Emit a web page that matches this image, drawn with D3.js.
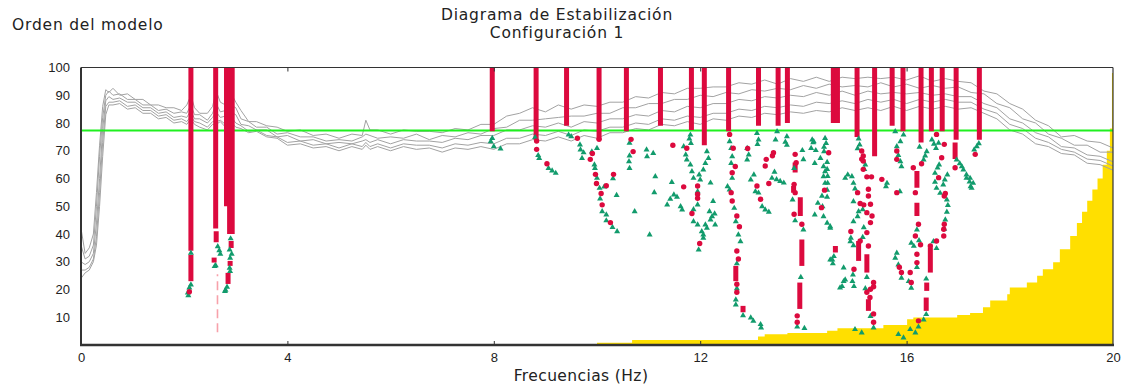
<!DOCTYPE html>
<html>
<head>
<meta charset="utf-8">
<script src="https://cdn.jsdelivr.net/npm/d3@7"></script>
<style>
  body { margin: 0; background: #fff; }
  svg { display: block; }
  .tick text { font-family: "Liberation Sans", Arial, sans-serif; font-size: 13px; fill: #222; }
  .lbl { font-family: "DejaVu Sans", sans-serif; font-size: 15.5px; letter-spacing: 0.8px; fill: #222; }
</style>
</head>
<body>
<svg id="chart" width="1125" height="385"></svg>
<script>
// ---- data ----
const xTicks = [0, 4, 8, 12, 16, 20];
const yTicks = [10, 20, 30, 40, 50, 60, 70, 80, 90, 100];
const stabLimit = 77.3;          // horizontal green line
const dashedFreq = 2.645;        // pink dashed mark
const dashedRange = [4.6, 25.5];

// grey spectra (5 curves sharing one frequency grid)
const specFreq = [0, 0.08, 0.16, 0.24, 0.3, 0.36, 0.42, 0.48, 0.54, 0.62,
  0.75, 0.9, 1.05, 1.2, 1.35, 1.5, 1.65, 1.8, 1.95, 2.05,
  2.13, 2.2, 2.3, 2.45, 2.55, 2.62, 2.7, 2.8, 2.9, 3.0,
  3.1, 3.25, 3.4, 3.6, 3.8, 4.0, 4.25, 4.5, 4.75, 5.0,
  5.25, 5.45, 5.52, 5.6, 5.75, 6.0, 6.25, 6.5, 6.75, 7.0,
  7.25, 7.5, 7.75, 8.0, 8.25, 8.5, 8.75, 9.0, 9.25, 9.5,
  9.75, 10.0, 10.25, 10.5, 10.75, 11.0, 11.25, 11.5, 11.75, 12.0,
  12.25, 12.5, 12.75, 13.0, 13.25, 13.5, 13.75, 14.0, 14.25, 14.5,
  14.75, 15.0, 15.25, 15.5, 15.75, 16.0, 16.25, 16.5, 16.75, 17.0,
  17.25, 17.5, 17.75, 18.0, 18.25, 18.5, 18.75, 19.0, 19.25, 19.5,
  19.75, 20.0];
const spec1 = [42, 33, 35, 40, 55, 72, 86, 92, 91, 92.5,
  90, 90.5, 88.5, 88.5, 86.5, 86.5, 85.5, 85.5, 84.5, 86.5,
  90, 85.5, 83.5, 83.5, 86, 91.5, 87.5, 86.5, 91, 87.5,
  84.5, 80.5, 80.5, 79, 78.5, 77, 77.5, 75.5, 76, 74.5,
  76, 75.5, 81, 77.5, 77.5, 76, 77.5, 77, 77, 76.5,
  78, 77.5, 79.5, 79.5, 82.5, 83.5, 85.5, 84, 86.5, 85,
  86.5, 86, 87.5, 87.5, 89.5, 89, 91, 90.5, 92.5, 92.5,
  93, 93, 94.5, 94, 95.5, 94, 96, 95, 96.5, 95,
  96.5, 96, 96.5, 96, 96.5, 95.5, 97, 95, 96, 95,
  94.5, 91.5, 90.5, 87, 85, 81, 79, 75, 75.5, 73.5,
  73, 71];
const spec2 = [36, 31, 32, 36, 50, 68, 82, 90, 91.5, 90,
  90.5, 88.5, 88.5, 86.5, 86.5, 84.5, 85, 83.5, 84, 83.5,
  86.5, 83, 83, 81, 83.5, 87, 84, 84.5, 86.5, 85.5,
  81.5, 80.5, 78.5, 78.5, 76, 76.5, 75, 75, 73.5, 74,
  73.5, 75, 76, 75.5, 74.5, 75, 74.5, 76, 74, 75.5,
  75, 76.5, 76, 78, 78.5, 81, 81, 81.5, 82, 82.5,
  82.5, 83.5, 83.5, 85.5, 85.5, 87, 87, 88.5, 88.5, 90,
  89.5, 91, 90.5, 92, 91.5, 92.5, 92, 93.5, 92.5, 94,
  93, 93.5, 93, 94.5, 93, 94, 92.5, 93.5, 92.5, 93,
  91, 90.5, 87, 85.5, 81.5, 80, 76, 74.5, 72, 72,
  69.5, 69.5];
const spec3 = [30, 29, 30, 33, 44, 60, 78, 88, 89.5, 88.5,
  89, 87.5, 87.5, 85.5, 85.5, 83.5, 84, 82, 82.5, 82,
  84.5, 81.5, 81.5, 80, 82, 84, 82, 82.5, 84, 83,
  79.5, 79, 77.5, 77.5, 75, 75.5, 73.5, 74, 72.5, 73,
  72.5, 73.5, 74, 73, 74, 72.5, 74, 73.5, 73.5, 73,
  74.5, 74, 75.5, 75.5, 77.5, 77.5, 79, 78.5, 80, 78.5,
  80.5, 80, 81.5, 81.5, 83, 82.5, 84.5, 84, 86, 85.5,
  87, 87, 88.5, 88, 89.5, 89, 90, 89.5, 91, 90,
  91.5, 90, 91.5, 90.5, 91, 90.5, 91, 90, 90.5, 89.5,
  89.5, 87, 85.5, 81.5, 80, 76.5, 75, 71.5, 71, 68.5,
  68, 66];
const spec4 = [27, 27, 28, 31, 39, 55, 73, 86, 87.5, 87.5,
  88, 86, 86.5, 84.5, 84.5, 82.5, 83, 81, 81.5, 80.5,
  82.5, 80.5, 80, 78.5, 80.5, 80.5, 81, 79.5, 82.5, 80,
  79, 77, 77.5, 75.5, 75, 73, 73.5, 72, 72.5, 71,
  72.5, 71.5, 73, 71.5, 72.5, 71, 72.5, 72, 72, 71,
  72.5, 72, 73, 72.5, 74.5, 74.5, 76, 75.5, 77, 75.5,
  77.5, 77, 78.5, 78.5, 80, 79.5, 81.5, 81, 82.5, 82,
  83.5, 83.5, 85, 84.5, 86, 85.5, 86.5, 86, 87.5, 87,
  88, 87, 88.5, 87.5, 88.5, 87, 88.5, 87.5, 88.5, 87.5,
  87.5, 85, 83.5, 79.5, 78, 74.5, 73, 70.5, 69.5, 67,
  66.5, 64.5];
const spec5 = [24, 26, 27, 30, 36, 50, 68, 83, 86.5, 86.5,
  87, 85, 85.5, 83.5, 83.5, 81.5, 82, 80, 80.5, 79.5,
  81.5, 79.5, 78.5, 77.5, 79.5, 79.5, 80.5, 78.5, 80.5, 78.5,
  78, 76.5, 77, 75, 74.5, 72, 72.5, 71, 71.5, 70,
  71.5, 70.5, 72, 70.5, 71.5, 70, 71.5, 70.5, 71, 69.5,
  71, 70.5, 71.5, 70.5, 72.5, 72.5, 74, 73.5, 75, 73.5,
  75.5, 74.5, 76.5, 76.5, 78, 77.5, 79.5, 79, 80.5, 79.5,
  81.5, 81, 82.5, 82, 83.5, 83, 84, 83.5, 84.5, 84,
  85.5, 84.5, 85.5, 84.5, 86, 84.5, 86, 85, 86, 85,
  85.5, 83.5, 81.5, 77.5, 76, 72.5, 71.5, 69, 68.5, 65.5,
  65, 63];
const spectra = [spec1, spec2, spec3, spec4, spec5];

// yellow step area
const floorFreq = [10.0, 10.68, 13.12, 13.25, 13.69, 14.46, 14.66, 15.55, 16.01, 16.13,
  16.98, 17.23, 17.48, 17.62, 17.95, 18.0, 18.33, 18.53, 18.64, 18.84,
  18.97, 19.17, 19.3, 19.4, 19.5, 19.6, 19.7, 19.8, 19.88, 19.94, 19.98, 20.0];
const floorOrder = [0.8, 1.8, 3.1, 3.9, 4.3, 5.1, 6, 7.2, 9.3, 9.9,
  10.8, 11.5, 13.6, 16, 18.3, 20.7, 22.5, 25, 27.3, 29.8,
  34.5, 39.3, 44, 48, 52, 56, 60, 65, 70, 78, 98, 98];

// stable runs: [freq, from order, to order]
const stableRuns = [
  [2.13, 34, 100], [2.13, 23, 32.5], [2.61, 42, 100], [2.62, 37, 41], [2.58, 29.7, 31.5],
  [2.82, 50, 100], [2.88, 40, 100], [2.93, 40, 100], [2.91, 35, 37.5], [2.89, 28.5, 30.3], [2.85, 22, 26],
  [7.97, 77, 100], [8.82, 74, 100], [9.41, 79, 100], [10.04, 74, 100], [10.57, 77, 100],
  [11.23, 79, 100], [11.83, 77.5, 100], [12.08, 72, 100], [12.55, 77, 100], [13.13, 79, 100],
  [13.51, 79, 100], [13.69, 80, 100], [14.58, 80, 100], [14.66, 80, 100], [15.04, 75, 100],
  [15.38, 68, 100], [15.72, 79, 100], [15.93, 77, 100], [16.28, 73, 100], [16.48, 77, 100],
  [16.69, 77, 100], [16.96, 74, 100], [17.41, 74, 100],
  [12.69, 23, 28.5], [12.83, 11.8, 14.1], [13.93, 13, 22.5], [13.97, 28.5, 38], [13.94, 46.5, 53.2],
  [13.84, 62.2, 65.8], [13.81, 54.9, 57.3], [15.26, 12.3, 16.5], [16.2, 56.7, 62.7], [16.2, 46.5, 51.3],
  [16.46, 26.1, 35.1], [16.39, 19.5, 22.5], [16.38, 12.3, 17.1], [16.94, 67, 73], [14.62, 33.3, 35.7],
  [15.07, 30.3, 37.5], [15.23, 26.1, 32.7]
];

// single stable poles
const stableDots = [
  [2.1, 19.2],
  [8.83, 73.5], [8.83, 70.5], [9.03, 65.3], [9.62, 74.5], [10.04, 74.1], [9.91, 69], [9.87, 66.9],
  [9.97, 61.5], [9.99, 58.2], [10.08, 54.6], [10.1, 50.5], [10.26, 44.1], [10.18, 57.4], [10.66, 74.1],
  [10.7, 69.7], [10.32, 61.5],
  [11.47, 72], [11.74, 70.9], [11.95, 57.3], [11.95, 52.9], [11.84, 47.4], [11.99, 36.6], [11.68, 57], [11.95, 54.3],
  [12.57, 75.9], [12.64, 70.9], [12.68, 64.3], [12.62, 62.1], [12.6, 54.9], [12.62, 51.9], [12.71, 46.5],
  [12.76, 42.6], [12.71, 33.9], [12.74, 31], [12.71, 21.9], [12.71, 19],
  [12.92, 70.8], [13.1, 57.3], [13.17, 52.5],
  [13.42, 69.3], [13.4, 68.2], [13.28, 66.9], [13.26, 64.5], [13.33, 58.2],
  [13.84, 68.7], [13.86, 65.7], [13.82, 57.9], [13.84, 54.9], [13.82, 47.1], [13.97, 43.5], [13.88, 10.5], [13.88, 8.2],
  [14.49, 69.3], [14.41, 55.8], [14.35, 49.5],
  [15.05, 54.9], [15.1, 51], [14.92, 40.9],
  [15.13, 69.9], [15.16, 68.1], [15.13, 67], [15.23, 60.6], [15.32, 60.6], [15.26, 56.1], [15.26, 53.7],
  [15.17, 50.5], [15.3, 50.7], [15.23, 47.7], [15.33, 46.5], [15.3, 44.1], [15.23, 40.5], [15.1, 37.5],
  [15.16, 66.3], [15.16, 63.3], [15.26, 35.7], [15.3, 20.1], [14.98, 27.3],
  [15.36, 22.5], [15.36, 21], [15.23, 19], [15.29, 17.1], [15.36, 11.2], [15.36, 8.2],
  [15.52, 59.7], [15.81, 54.9], [15.81, 69.9], [15.81, 66.9],
  [16.17, 54.9], [16.23, 43.5], [16.17, 39.3], [16.27, 36.1], [16.13, 63.9], [16.29, 65.3], [16.23, 8.7],
  [15.86, 28], [15.9, 26.1], [16.07, 26.1], [16.09, 22.5], [16.2, 32.7], [16.2, 29.7],
  [16.58, 75.9], [16.73, 72.3], [16.68, 67.5], [16.62, 60.3], [16.75, 54.6], [16.73, 43.5], [16.72, 39.3],
  [16.58, 37.5], [16.73, 53.7], [16.72, 41.7], [16.46, 35.7],
  [16.94, 63.9], [17.33, 68.7]
];

// unstable poles (green)
const otherPoles = [
  [2.13, 33.3], [2.13, 21.9], [2.1, 20.8], [2.08, 18], [2.07, 19],
  [2.65, 35.7], [2.68, 34.2], [2.7, 33], [2.61, 28.8], [2.59, 28.5],
  [2.9, 38.5], [2.88, 34.5], [2.92, 33], [2.89, 31.5], [2.88, 27.9], [2.89, 26.7], [2.83, 21.1], [2.8, 20], [2.79, 19.5],
  [7.97, 74.7], [7.94, 73.5], [8.0, 71.7], [8.13, 70.9], [8.8, 75], [8.86, 68.5], [8.88, 67.5], [9.06, 63.9],
  [9.2, 62.1], [9.13, 63],
  [9.45, 75.9], [9.5, 75.3], [9.68, 70.5], [9.67, 72.3], [9.71, 67.5], [9.74, 69.5],
  [10.0, 71.1], [9.9, 69.8], [9.95, 65.1], [9.96, 63.9], [10.0, 60.3], [10.05, 56.7], [10.06, 52.9],
  [10.1, 48.3], [10.18, 47.1], [10.18, 45], [10.3, 42.6], [10.39, 41.1], [10.14, 57.2],
  [10.63, 73], [10.62, 66.3], [10.63, 63.9], [10.63, 68.4], [10.31, 60.2], [10.38, 54.1], [10.73, 48.3],
  [10.96, 70.5], [10.97, 68.1], [11.09, 69.3], [11.13, 60.9], [11.11, 55.1], [11.45, 58.8], [11.36, 50.7],
  [11.42, 52.8], [11.49, 54.3], [11.02, 39.9],
  [11.81, 75.9], [11.79, 74.5], [11.82, 72.9], [11.72, 68.7], [11.74, 66.9], [11.81, 65.1], [11.84, 62.7],
  [11.87, 60.3], [11.95, 55.5], [11.95, 50.7], [11.87, 49], [11.87, 44.7], [11.95, 43.5], [12.03, 41.1],
  [12.06, 38.7], [11.68, 71.7], [11.62, 50.1], [11.65, 48.9], [11.55, 53.5], [11.97, 34.5],
  [12.13, 69.9], [12.16, 67.5], [12.1, 65.7], [12.06, 63.3], [11.98, 61.5], [12.0, 59.7], [12.2, 58.6],
  [12.18, 48.3], [12.23, 46.5], [12.2, 45.3], [12.1, 43.5], [12.13, 42.3], [12.29, 43.5], [12.06, 39.9],
  [12.25, 52], [12.28, 47.5],
  [12.57, 73.5], [12.6, 71.1], [12.62, 68.1], [12.6, 65.7], [12.62, 60.3], [12.53, 57.3], [12.57, 56.1],
  [12.66, 49.5], [12.69, 44.7], [12.74, 39.9], [12.78, 37.5], [12.71, 29.5], [12.71, 20.5], [12.69, 16.5],
  [12.69, 14.7], [12.83, 10.8], [12.98, 10], [13.03, 8.8], [13.17, 7.6], [13.18, 6.4],
  [13.1, 76.5], [13.13, 74.1], [13.11, 72.5], [12.91, 71.1], [12.94, 68.7], [12.91, 66.9], [13.04, 61.5],
  [12.98, 59.7], [13.07, 55.5], [13.13, 55], [13.2, 50.1], [13.26, 48.9], [13.33, 48.1],
  [13.49, 77.1], [13.46, 74.1], [13.44, 62.5], [13.39, 60.3], [13.48, 59.8], [13.55, 59.2], [13.62, 58.6],
  [13.68, 75.3], [13.65, 73.3], [13.68, 72.2], [13.82, 63.9], [13.79, 52.5], [13.84, 45], [13.88, 6.7],
  [14.02, 6.2], [13.98, 70.3], [14.0, 67], [13.95, 24.6], [14.0, 41.7],
  [14.17, 74.1], [14.19, 73.1], [14.15, 71.1], [14.24, 70.3], [14.42, 74.7], [14.44, 72.9], [14.4, 71.5],
  [14.4, 69.9], [14.33, 67.5], [14.22, 65.7], [14.39, 64.5], [14.42, 62.7], [14.39, 60.9], [14.42, 58.5],
  [14.36, 53.9], [14.28, 51.3], [14.22, 47.1], [14.39, 46.5], [14.46, 44.1], [14.52, 42.3], [14.46, 66],
  [14.46, 63.5], [14.47, 61], [14.47, 58.5], [14.46, 56], [14.46, 53.5], [14.37, 50.1], [14.52, 42.9],
  [14.56, 30.9], [14.57, 29.5], [14.75, 21.3], [14.81, 23.7], [14.2, 73.5],
  [14.59, 32.1], [14.52, 30.9], [14.78, 28], [14.78, 23.1], [14.71, 20.8], [15.0, 5.8], [15.13, 4.6],
  [14.81, 60.3], [14.86, 61.5], [14.94, 60.9], [14.97, 58.5], [15.0, 56.5], [14.97, 51.9], [15.07, 48.3],
  [15.05, 46.5], [14.97, 44.7], [14.92, 38.7], [14.91, 37.5], [14.97, 36],
  [15.07, 74.5], [15.09, 72.3], [15.05, 71], [15.2, 65.1], [15.18, 63.5], [15.15, 49], [15.17, 42.5], [15.15, 39],
  [14.96, 25.5], [14.95, 23.1], [14.98, 21.3], [15.2, 20.5], [15.23, 24.6], [15.36, 6.4], [15.3, 10.5],
  [15.78, 77.1], [15.94, 75.9], [15.88, 73.5], [15.81, 71.7], [15.84, 68.5], [15.88, 66.3], [15.9, 64.5],
  [15.6, 57.3], [15.87, 55.5], [15.62, 58.5],
  [15.81, 33.3], [15.78, 31.5], [15.84, 29.1], [15.9, 24.3], [16.04, 23.1], [16.09, 20.7], [16.09, 36.9],
  [16.14, 35.8], [16.2, 28.2],
  [16.2, 41.7], [16.24, 37.8], [16.33, 66.9], [16.36, 68.4], [16.39, 69.9], [16.25, 71.5],
  [16.38, 24], [16.38, 11.2], [16.33, 9.3], [16.23, 6.7], [16.17, 4.6], [16.07, 5.8], [15.94, 2.8], [15.84, 4],
  [16.49, 74.1], [16.53, 72.6], [16.57, 71.1], [16.62, 73], [16.63, 65.1], [16.6, 64], [16.55, 62.1],
  [16.55, 58.9], [16.58, 56.7], [16.65, 54.9], [16.71, 57.9], [16.74, 59.7], [16.79, 61.5], [16.78, 52.5],
  [16.8, 50.5], [16.78, 48.1], [16.75, 45.3], [16.73, 42], [16.52, 37.5], [16.58, 35],
  [16.97, 66.9], [17.03, 65.6], [17.1, 63.3], [17.16, 61.5], [17.16, 60.3], [17.07, 64.5], [17.24, 57.3], [17.22, 59],
  [17.31, 70.5], [17.36, 71.7], [17.4, 72.8], [17.23, 60.3], [17.29, 58.5], [17.26, 56.7]
];

// ---- drawing ----
const plotLeft = 81, plotRight = 1113, plotTop = 67.5, plotBottom = 345;

const x = d3.scaleLinear().domain([0, 20]).range([plotLeft, plotRight]);
const y = d3.scaleLinear().domain([0, 100]).range([plotBottom, plotTop]);

const svg = d3.select("#chart");

svg.append("defs").append("clipPath").attr("id", "clip")
  .append("rect")
  .attr("x", plotLeft).attr("y", plotTop)
  .attr("width", plotRight - plotLeft).attr("height", plotBottom - plotTop);

const plot = svg.append("g").attr("clip-path", "url(#clip)");

// yellow area
const area = d3.area()
  .x(d => x(d[0]))
  .y0(y(0))
  .y1(d => y(d[1]))
  .curve(d3.curveStepAfter);
plot.append("path")
  .datum(floorFreq.map((f, i) => [f, floorOrder[i]]))
  .attr("d", area)
  .attr("fill", "#ffdf00");

// grey spectra
const line = d3.line().x(d => x(d[0])).y(d => y(d[1]));
spectra.forEach(s => {
  plot.append("path")
    .datum(specFreq.map((f, i) => [f, s[i]]))
    .attr("d", line)
    .attr("fill", "none")
    .attr("stroke", "#a2a2a2")
    .attr("stroke-width", 1);
});

// green stability limit
plot.append("line")
  .attr("x1", plotLeft).attr("x2", plotRight)
  .attr("y1", y(stabLimit)).attr("y2", y(stabLimit))
  .attr("stroke", "#1ff01f")
  .attr("stroke-width", 2.2);

// pink dashed mark
plot.append("line")
  .attr("x1", x(dashedFreq)).attr("x2", x(dashedFreq))
  .attr("y1", y(dashedRange[0])).attr("y2", y(dashedRange[1]))
  .attr("stroke", "#f7a1aa")
  .attr("stroke-width", 1.6)
  .attr("stroke-dasharray", "9,5");

// stable runs
plot.selectAll(".run")
  .data(stableRuns)
  .enter()
  .append("line")
  .attr("class", "run")
  .attr("x1", d => x(d[0])).attr("x2", d => x(d[0]))
  .attr("y1", d => y(d[1])).attr("y2", d => y(d[2]))
  .attr("stroke", "#dc0a3e")
  .attr("stroke-width", 5);

// unstable poles
plot.selectAll(".tri")
  .data(otherPoles)
  .enter()
  .append("path")
  .attr("class", "tri")
  .attr("transform", d => "translate(" + x(d[0]) + "," + y(d[1]) + ")")
  .attr("d", "M0,-3L3,2.2L-3,2.2Z")
  .attr("fill", "#129b6c");

// single stable poles
plot.selectAll(".dot")
  .data(stableDots)
  .enter()
  .append("circle")
  .attr("class", "dot")
  .attr("cx", d => x(d[0]))
  .attr("cy", d => y(d[1]))
  .attr("r", 2.7)
  .attr("fill", "#dc0a3e");

// frame
svg.append("line").attr("x1", plotLeft).attr("x2", plotRight).attr("y1", plotTop).attr("y2", plotTop)
  .attr("stroke", "#333").attr("stroke-width", 1.2);
svg.append("line").attr("x1", plotRight).attr("x2", plotRight).attr("y1", plotTop).attr("y2", plotBottom)
  .attr("stroke", "#333").attr("stroke-width", 1.2);
svg.append("line").attr("x1", plotLeft).attr("x2", plotLeft).attr("y1", plotTop).attr("y2", plotBottom + 1)
  .attr("stroke", "#333").attr("stroke-width", 2);
svg.append("line").attr("x1", plotLeft - 1).attr("x2", plotRight + 1).attr("y1", plotBottom).attr("y2", plotBottom)
  .attr("stroke", "#333").attr("stroke-width", 2.4);

// axes
const xAxis = d3.axisBottom(x).tickValues(xTicks).tickSizeInner(-4).tickSizeOuter(0).tickPadding(8);
const gx = svg.append("g").attr("transform", "translate(0," + plotBottom + ")").call(xAxis);
gx.select(".domain").remove();
gx.selectAll(".tick line").attr("stroke", "#333").filter(d => d === 0 || d === 20).remove();

const xTop = d3.axisTop(x).tickValues([4, 8, 12, 16]).tickSizeInner(-4).tickSizeOuter(0).tickFormat("");
const gxt = svg.append("g").attr("transform", "translate(0," + plotTop + ")").call(xTop);
gxt.select(".domain").remove();
gxt.selectAll(".tick line").attr("stroke", "#333");

const yAxis = d3.axisLeft(y).tickValues(yTicks).tickSize(0).tickPadding(11);
const gy = svg.append("g").attr("transform", "translate(" + plotLeft + ",0)").call(yAxis);
gy.select(".domain").remove();

// texts
svg.append("text").attr("class", "lbl")
  .attr("x", 557).attr("y", 20).attr("text-anchor", "middle")
  .text("Diagrama de Estabilización");
svg.append("text").attr("class", "lbl")
  .attr("x", 557).attr("y", 38).attr("text-anchor", "middle")
  .text("Configuración 1");
svg.append("text").attr("class", "lbl")
  .attr("x", 12).attr("y", 30)
  .text("Orden del modelo");
svg.append("text").attr("class", "lbl")
  .attr("x", 581).attr("y", 380.5).attr("text-anchor", "middle")
  .style("letter-spacing", "0.4px")
  .text("Frecuencias (Hz)");
</script>
</body>
</html>
